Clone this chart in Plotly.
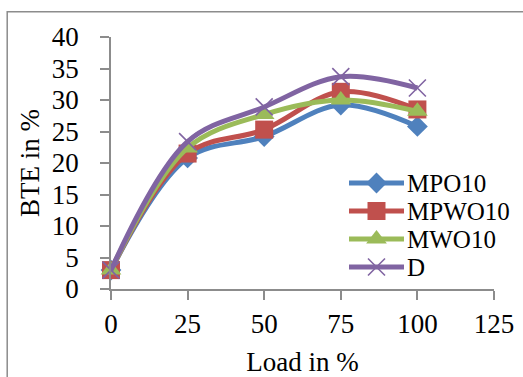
import plotly.graph_objects as go

# Brake thermal efficiency against engine load for each fuel blend
load = [0, 25, 50, 75, 100]
mpo10 = [3.0, 20.8, 24.2, 29.2, 25.8]
mpwo10 = [3.0, 21.5, 25.3, 31.3, 28.5]
mwo10 = [3.0, 22.4, 27.7, 30.0, 28.2]
diesel = [3.0, 23.4, 28.9, 33.7, 31.9]

series_names = ["MPO10", "MPWO10", "MWO10", "D"]
series_values = [mpo10, mpwo10, mwo10, diesel]
colors = ["#4F81BD", "#C0504D", "#9BBB59", "#8064A2"]
markers = [
    dict(symbol="diamond", size=16),
    dict(symbol="square", size=18),
    dict(symbol="triangle-up", size=18),
    dict(symbol="x-thin-open", size=17, line=dict(width=1.6, color="#9E8AC2")),
]

x_ticks = [0, 25, 50, 75, 100, 125]
y_ticks = [0, 5, 10, 15, 20, 25, 30, 35, 40]

FONT = "Liberation Serif"
FS = 27
LEG_FS = 25
W, H = 523, 377
ML, MR, MT, MB = 111, 29, 37, 88

fig = go.Figure()
for name, vals, col, mk in zip(series_names, series_values, colors, markers):
    fig.add_trace(go.Scatter(
        x=load, y=vals, name=name, mode="lines+markers",
        line=dict(color=col, width=5, shape="spline", smoothing=1.0),
        marker=dict(color=col, **mk), cliponaxis=False, showlegend=False,
    ))

# Legend box drawn on a pixel-scaled overlay axis pair
leg_x0, leg_x1, leg_text_x = 349, 404, 406
leg_y_first, leg_dy = 183, 28
annotations = []
for i, (name, col, mk) in enumerate(zip(series_names, colors, markers)):
    ly = leg_y_first + i * leg_dy
    fig.add_trace(go.Scatter(
        x=[leg_x0, leg_x1], y=[ly, ly], xaxis="x2", yaxis="y2",
        mode="lines", line=dict(color=col, width=5),
        showlegend=False, hoverinfo="skip", cliponaxis=False,
    ))
    fig.add_trace(go.Scatter(
        x=[(leg_x0 + leg_x1) / 2], y=[ly], xaxis="x2", yaxis="y2",
        mode="markers", marker=dict(color=col, **mk),
        showlegend=False, hoverinfo="skip", cliponaxis=False,
    ))
    annotations.append(dict(
        x=leg_text_x, y=ly, xref="x2", yref="y2", text=name,
        showarrow=False, xanchor="left", yanchor="middle", borderpad=0,
        font=dict(family=FONT, size=LEG_FS, color="black"),
    ))

axis_common = dict(
    showgrid=False, zeroline=False, showline=True, linecolor="#8C8C8C",
    linewidth=1.5, ticks="outside", tickcolor="#8C8C8C", tickwidth=1.5,
    ticklen=9, tickfont=dict(family=FONT, size=FS, color="black"),
    automargin=False,
)

fig.update_layout(
    width=W, height=H,
    margin=dict(l=ML, r=MR, t=MT, b=MB),
    paper_bgcolor="white", plot_bgcolor="white",
    showlegend=False,
    xaxis=dict(
        range=[0, 125], tickvals=x_ticks, ticklabelstandoff=1,
        title=dict(text="Load in %", font=dict(family=FONT, size=FS, color="black"),
                   standoff=14),
        **axis_common,
    ),
    yaxis=dict(
        range=[0, 40], tickvals=y_ticks, ticklabelstandoff=16,
        title=dict(text="BTE in %", font=dict(family=FONT, size=FS, color="black"),
                   standoff=4),
        **axis_common,
    ),
    xaxis2=dict(overlaying="x", range=[ML, W - MR], visible=False),
    yaxis2=dict(overlaying="y", range=[H - MB, MT], visible=False),
    annotations=annotations,
    shapes=[dict(
        type="rect", xref="paper", yref="paper",
        x0=-0.271, x1=1.2, y0=-0.5, y1=1.1,
        line=dict(color="#8C8C8C", width=1.5), fillcolor="rgba(0,0,0,0)",
        layer="below",
    )],
)

fig.write_html("out.html")
